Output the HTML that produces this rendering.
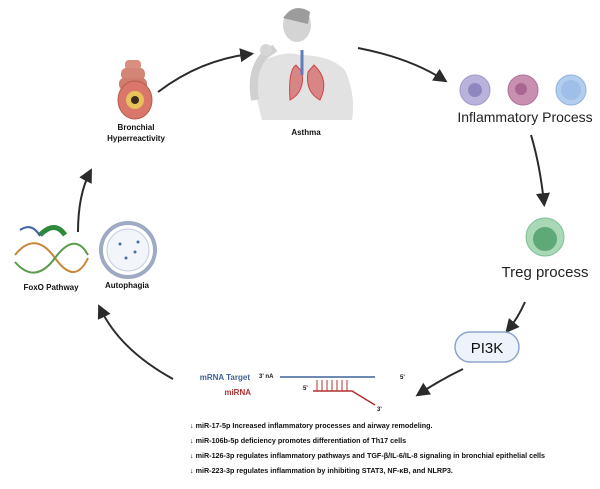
<!DOCTYPE html>
<html><head><style>
body{margin:0;width:600px;height:484px;background:#fff;overflow:hidden;font-family:"Liberation Sans",sans-serif}
</style></head><body>
<svg width="600" height="484" viewBox="0 0 600 484" xmlns="http://www.w3.org/2000/svg" font-family="Liberation Sans, sans-serif">
<defs>
<marker id="ab" viewBox="0 0 10 10" markerWidth="14" markerHeight="14" refX="7" refY="5" orient="auto" markerUnits="userSpaceOnUse"><path d="M0,0 L10,5 L0,10 z" fill="#2b2b2b"/></marker>
</defs>
<g fill="none" stroke="#2b2b2b" stroke-width="2">
<path d="M158,92 Q200,60 250,54" marker-end="url(#ab)"/>
<path d="M358,48 Q410,58 444,80" marker-end="url(#ab)"/>
<path d="M531,135 Q540,165 544,203" marker-end="url(#ab)"/>
<path d="M525,302 Q518,318 508,330" marker-end="url(#ab)"/>
<path d="M463,369 Q440,380 419,394" marker-end="url(#ab)"/>
<path d="M173,379 Q120,350 100,308" marker-end="url(#ab)"/>
<path d="M78,232 Q78,195 90,172" marker-end="url(#ab)"/>
</g>
<g>
<rect x="125" y="60" width="16" height="10" rx="4" fill="#d98f80"/>
<rect x="121" y="68" width="24" height="12" rx="5" fill="#d48676"/>
<rect x="119" y="78" width="28" height="12" rx="5" fill="#cf7e6e"/>
<ellipse cx="135" cy="100" rx="17" ry="19" fill="#d9786a" stroke="#b95a4e"/>
<ellipse cx="135" cy="100" rx="9" ry="9" fill="#e8c15a"/>
<circle cx="135" cy="100" r="4" fill="#3a2a20"/>
</g>
<g>
<ellipse cx="297" cy="25" rx="14" ry="17" fill="#d4d4d4"/>
<path d="M283,18 Q295,2 310,12 L308,24 Z" fill="#9c9c9c"/>
<path d="M262,120 Q252,85 260,62 Q285,50 300,55 Q330,55 345,70 Q356,95 352,120 Z" fill="#e2e2e2"/>
<path d="M255,100 Q250,70 265,55 L275,48" stroke="#d0d0d0" stroke-width="8" fill="none"/>
<circle cx="266" cy="50" r="6" fill="#d6d6d6"/>
<path d="M296,65 Q288,70 290,100 Q305,92 302,72 Z" fill="#d88585" stroke="#c44" stroke-width="1"/>
<path d="M308,72 Q305,92 320,100 Q330,80 314,65 Z" fill="#d88585" stroke="#c44" stroke-width="1"/>
<line x1="302" y1="50" x2="302" y2="75" stroke="#5b7fbf" stroke-width="3"/>
</g>
<circle cx="475" cy="90" r="15" fill="#b9b3dc" stroke="#9f98cc"/><circle cx="475" cy="90" r="7" fill="#8f88c0"/>
<circle cx="523" cy="90" r="15" fill="#c98fb0" stroke="#b07096"/><circle cx="521" cy="89" r="6" fill="#a86690"/>
<circle cx="571" cy="90" r="15" fill="#b3cdee" stroke="#8fb2e0"/><circle cx="571" cy="90" r="10" fill="#9fbfe8"/>
<circle cx="545" cy="237" r="19" fill="#a8d8b6" stroke="#7fbf93"/><circle cx="545" cy="239" r="12" fill="#5fa877"/>
<g fill="none" stroke-width="2">
<path d="M15,255 Q35,230 55,258 T88,258" stroke="#c9853a"/>
<path d="M15,262 Q35,285 55,258 T88,255" stroke="#5a9a4a"/>
<path d="M40,235 Q55,220 65,235" stroke="#2d8a3a" stroke-width="5"/>
<path d="M20,230 Q32,222 40,236" stroke="#4060a0"/>
</g>
<circle cx="128" cy="250" r="27" fill="#fff" stroke="#9eaac4" stroke-width="4"/>
<circle cx="128" cy="250" r="21" fill="#f2f5fa" stroke="#c3cbe0"/>
<g fill="#4a6fa5"><circle cx="120" cy="244" r="1.5"/><circle cx="135" cy="252" r="1.5"/><circle cx="126" cy="258" r="1.5"/><circle cx="138" cy="242" r="1.5"/></g>
<rect x="455" y="332" width="64" height="30" rx="15" fill="#eef3fb" stroke="#8ea3cc" stroke-width="1.5"/>
<text x="487" y="353" font-size="15" text-anchor="middle" fill="#111">PI3K</text>
<g font-weight="bold" font-size="8" fill="#111" text-anchor="middle">
<text x="136" y="130">Bronchial</text>
<text x="136" y="141">Hyperreactivity</text>
<text x="306" y="135">Asthma</text>
<text x="51" y="290">FoxO Pathway</text>
<text x="127" y="288">Autophagia</text>
</g>
<text x="525" y="122" font-size="14" text-anchor="middle" fill="#222">Inflammatory Process</text>
<text x="545" y="277" font-size="15" text-anchor="middle" fill="#222">Treg process</text>
<text x="250" y="380" font-size="8" font-weight="bold" fill="#3e6299" text-anchor="end">mRNA Target</text>
<text x="251" y="395" font-size="8" font-weight="bold" fill="#b03030" text-anchor="end">miRNA</text>
<text x="259" y="378" font-size="6" font-weight="bold" fill="#111">3' nA</text>
<line x1="280" y1="377" x2="375" y2="377" stroke="#3e6299" stroke-width="1.5"/>
<text x="400" y="379" font-size="6" font-weight="bold" fill="#111">5'</text>
<text x="303" y="390" font-size="6" font-weight="bold" fill="#111">5'</text>
<path d="M313,391 L352,391 L375,405" fill="none" stroke="#b03030" stroke-width="1.5"/>
<g stroke="#b03030" stroke-width="1"><line x1="317" y1="380" x2="317" y2="391"/><line x1="322" y1="380" x2="322" y2="391"/><line x1="327" y1="380" x2="327" y2="391"/><line x1="332" y1="380" x2="332" y2="391"/><line x1="337" y1="380" x2="337" y2="391"/><line x1="342" y1="380" x2="342" y2="391"/><line x1="347" y1="380" x2="347" y2="391"/></g>
<text x="377" y="411" font-size="6" font-weight="bold" fill="#111">3'</text>
<g font-size="7.2" font-weight="bold" fill="#111">
<text x="190" y="428">↓ miR-17-5p Increased inflammatory processes and airway remodeling.</text>
<text x="190" y="443">↓ miR-106b-5p deficiency promotes differentiation of Th17 cells</text>
<text x="190" y="458">↓ miR-126-3p regulates inflammatory pathways and TGF-β/IL-6/IL-8 signaling in bronchial epithelial cells</text>
<text x="190" y="473">↓ miR-223-3p  regulates inflammation by inhibiting STAT3, NF-κB, and NLRP3.</text>
</g>
</svg>
</body></html>
